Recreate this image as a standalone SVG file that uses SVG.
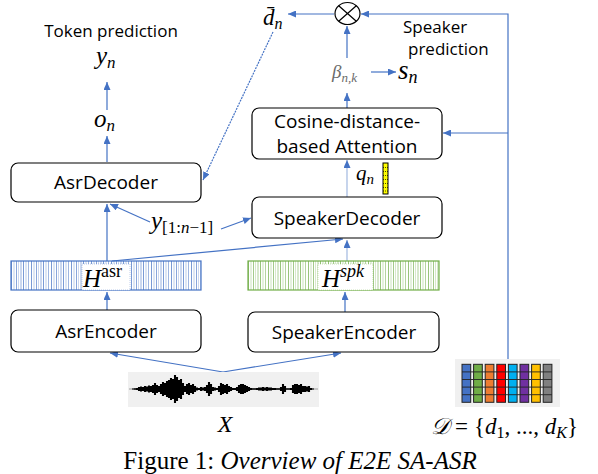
<svg xmlns="http://www.w3.org/2000/svg" width="598" height="474" viewBox="0 0 598 474">
<defs>
<style>
.box{fill:#fff;stroke:#000;stroke-width:1.2}
.lbl{font-family:"Open Sans","Noto Sans",sans-serif;font-size:19px;fill:#000}
.note{font-family:"Open Sans","Noto Sans",sans-serif;font-size:17px;fill:#000}
.math{font-family:"Liberation Serif","DejaVu Serif",serif;font-style:italic;fill:#000}
.rm{font-style:normal}
.con{fill:none;stroke:#4472c4;stroke-width:1.2}
.cap{font-family:"Liberation Serif",serif;font-size:25px;fill:#000}
</style>
<marker id="ah" viewBox="0 0 8 7" refX="8" refY="3.5" markerWidth="8" markerHeight="7" markerUnits="userSpaceOnUse" orient="auto">
<path d="M0,0L8,3.5L0,7z" fill="#4472c4"/>
</marker>
<pattern id="stB" x="11" y="0" width="20" height="40" patternUnits="userSpaceOnUse">
<g stroke="#4472c4" stroke-width="0.8">
<line x1="0.5" y1="0" x2="0.5" y2="40" stroke-opacity="0.9"/>
<line x1="3" y1="0" x2="3" y2="40" stroke-opacity="0.45"/>
<line x1="5.5" y1="0" x2="5.5" y2="40" stroke-opacity="0.8"/>
<line x1="7.5" y1="0" x2="7.5" y2="40" stroke-opacity="0.35"/>
<line x1="10" y1="0" x2="10" y2="40" stroke-opacity="0.7"/>
<line x1="12.5" y1="0" x2="12.5" y2="40" stroke-opacity="0.9"/>
<line x1="15" y1="0" x2="15" y2="40" stroke-opacity="0.45"/>
<line x1="17.5" y1="0" x2="17.5" y2="40" stroke-opacity="0.65"/>
</g>
</pattern>
<pattern id="stG" x="248" y="0" width="20" height="40" patternUnits="userSpaceOnUse">
<g stroke="#70ad47" stroke-width="0.8">
<line x1="0.5" y1="0" x2="0.5" y2="40" stroke-opacity="0.9"/>
<line x1="3" y1="0" x2="3" y2="40" stroke-opacity="0.45"/>
<line x1="5.5" y1="0" x2="5.5" y2="40" stroke-opacity="0.8"/>
<line x1="7.5" y1="0" x2="7.5" y2="40" stroke-opacity="0.35"/>
<line x1="10" y1="0" x2="10" y2="40" stroke-opacity="0.7"/>
<line x1="12.5" y1="0" x2="12.5" y2="40" stroke-opacity="0.9"/>
<line x1="15" y1="0" x2="15" y2="40" stroke-opacity="0.45"/>
<line x1="17.5" y1="0" x2="17.5" y2="40" stroke-opacity="0.65"/>
</g>
</pattern>
</defs>
<rect width="598" height="474" fill="#fff"/>

<g id="connectors">
<path class="con" d="M107,162L107,136" marker-end="url(#ah)"/>
<path class="con" d="M107,110L107,82" marker-end="url(#ah)"/>
<path class="con" d="M107,261L107,204" marker-end="url(#ah)"/>
<path class="con" d="M150,222L110,204" marker-end="url(#ah)" stroke-width="0.9"/>
<path class="con" d="M221,229L251,218" marker-end="url(#ah)" stroke-width="0.9"/>
<path class="con" d="M112,261L343,239" marker-end="url(#ah)" stroke-width="0.9"/>
<path class="con" d="M347,261L347,240" marker-end="url(#ah)" stroke-opacity="0.5"/>
<path class="con" d="M107,310L107,292" marker-end="url(#ah)"/>
<path class="con" d="M345,312L345,292" marker-end="url(#ah)"/>
<path class="con" d="M223,372L110,353" marker-end="url(#ah)" stroke-width="0.9"/>
<path class="con" d="M223,372L341,353" marker-end="url(#ah)" stroke-width="0.9"/>
<path class="con" d="M347,197L347,160" marker-end="url(#ah)" stroke-opacity="0.5"/>
<path class="con" d="M347,108L347,93" marker-end="url(#ah)"/>
<path class="con" d="M347,58L347,26" marker-end="url(#ah)"/>
<path class="con" d="M371,72L396,72" marker-end="url(#ah)"/>
<path class="con" d="M334,14L288,14" marker-end="url(#ah)"/>
<path class="con" d="M508,359L508,14L361,14" marker-end="url(#ah)"/>
<path class="con" d="M508,133L443,133" marker-end="url(#ah)"/>
<path class="con" d="M273,32L203,180" marker-end="url(#ah)" stroke-width="0.8" stroke-dasharray="2 1"/>
</g>

<g id="token-prediction">
<text class="note" x="111" y="37" text-anchor="middle">Token prediction</text>
</g>
<g id="yn"><text class="math" x="96" y="64" font-size="25">y<tspan font-size="17" dy="4">n</tspan></text></g>
<g id="on"><text class="math" x="94" y="127" font-size="25">o<tspan font-size="17" dy="4">n</tspan></text></g>

<g id="asr-decoder">
<rect class="box" x="11" y="163" width="190" height="39" rx="7"/>
<text class="lbl" x="106" y="189" text-anchor="middle">AsrDecoder</text>
</g>

<g id="dbar-n"><text class="math" x="263" y="25" font-size="23">d̄<tspan font-size="16" dy="4">n</tspan></text></g>

<g id="otimes">
<ellipse cx="347.5" cy="13.5" rx="12.5" ry="11" fill="#fff" stroke="#000" stroke-width="1.2"/>
<path d="M338.7,5.7L356.3,21.3M356.3,5.7L338.7,21.3" stroke="#000" stroke-width="1.2"/>
</g>

<g id="speaker-prediction">
<text class="note" x="403" y="33">Speaker</text>
<text class="note" x="408" y="55">prediction</text>
</g>

<g id="beta"><text class="math" x="332" y="78" font-size="19" style="fill:#6a6a6a">β<tspan font-size="13" dy="4">n,k</tspan></text></g>
<g id="sn"><text class="math" x="398" y="79" font-size="27">s<tspan font-size="18" dy="4">n</tspan></text></g>

<g id="cosine-attention">
<rect class="box" x="252" y="108" width="190" height="51" rx="7"/>
<text class="lbl" x="347" y="128" text-anchor="middle">Cosine-distance-</text>
<text class="lbl" x="347" y="153" text-anchor="middle">based Attention</text>
</g>

<g id="qn">
<text class="math" x="356" y="180" font-size="21">q<tspan font-size="15" dy="4">n</tspan></text>
<rect x="383" y="163" width="5" height="31" fill="#ffff00" stroke="#000" stroke-width="1"/>
<path d="M383,167.5H388M383,171.5H388M383,175.5H388M383,179.5H388M383,183.5H388M383,187.5H388M383,191H388" stroke="#000" stroke-width="0.7" stroke-dasharray="1 1"/>
</g>

<g id="speaker-decoder">
<rect class="box" x="252" y="197" width="190" height="41" rx="7"/>
<text class="lbl" x="347" y="225" text-anchor="middle">SpeakerDecoder</text>
</g>

<g id="y-prev"><text class="math" x="151" y="229" font-size="25">y<tspan font-size="17" dy="4" class="rm">[1:</tspan><tspan font-size="17">n</tspan><tspan font-size="17" class="rm">−1]</tspan></text></g>

<g id="h-asr">
<rect x="11" y="261" width="190" height="29" fill="url(#stB)" stroke="#4472c4" stroke-width="1.2"/>
<rect x="82" y="264" width="48" height="26" fill="#fff" stroke="#4472c4" stroke-width="0.6" stroke-dasharray="1 1" stroke-opacity="0.6"/>
<text class="math" x="83" y="287" font-size="25">H<tspan font-size="18" dy="-10" class="rm">asr</tspan></text>
</g>

<g id="h-spk">
<rect x="248" y="261" width="191" height="29" fill="url(#stG)" stroke="#70ad47" stroke-width="1.2"/>
<rect x="318" y="264" width="55" height="26" fill="#fff" stroke="#70ad47" stroke-width="0.6" stroke-dasharray="1 1" stroke-opacity="0.6"/>
<text class="math" x="322" y="287" font-size="25">H<tspan font-size="18" dy="-10">spk</tspan></text>
</g>

<g id="asr-encoder">
<rect class="box" x="11" y="310" width="190" height="42" rx="7"/>
<text class="lbl" x="106" y="338" text-anchor="middle">AsrEncoder</text>
</g>

<g id="speaker-encoder">
<rect class="box" x="248" y="312" width="191" height="40" rx="7"/>
<text class="lbl" x="344" y="339" text-anchor="middle">SpeakerEncoder</text>
</g>

<g id="waveform">
<rect x="128" y="372" width="191" height="35" fill="#f0f0f0"/>
<line x1="129" y1="389" x2="318" y2="389" stroke="#888" stroke-width="0.8"/>
<path stroke="#000" stroke-width="2.1" fill="none" d="M133,388.5V389.5M135,388.2V389.8M137,388V390M139,387V391M141,386.5V391.5M143,387V391M145,386V392M147,386.5V391.5M149,385.5V392.5M151,386V392M153,385V393M155,383V395M157,385V393M159,386V392M161,384V394M163,382V396M165,383V395M167,381V397M169,380V398M171,378V400M173,379V399M175,375V403M177,377V401M179,380V398M181,379V399M183,383V395M185,386V392M187,384V394M189,383V395M191,385V393M193,384V394M195,386V392M197,387.5V390.5M199,388V390M201,387V391M203,387.5V390.5M205,387V391M207,385V393M209,382V396M211,384V394M213,387V391M215,387.5V390.5M217,388V390M219,386V392M221,383V395M223,384V394M225,385V393M227,384V394M229,386V392M231,387V391M233,388V390M235,388V390M237,387V391M239,385V393M241,384V394M243,384V394M245,385V393M247,386V392M249,387V391M251,388V390M253,388.2V389.8M255,388.2V389.8M257,388V390M259,387.5V390.5M261,387.5V390.5M263,387V391M265,387.5V390.5M267,387V391M269,387.5V390.5M271,387.5V390.5M273,388V390M275,388V390M277,388.2V389.8M279,388.2V389.8M281,387V391M283,384V394M285,386V392M287,388.2V389.8M289,388.2V389.8M291,388V390M293,385V393M295,384V394M297,384V394M299,385V393M301,384V394M303,386V392M305,386V392M307,386.5V391.5M309,386V392M311,388V390M313,388.5V389.5"/>
<text class="math" x="225" y="432" font-size="24" text-anchor="middle">X</text>
</g>

<g id="speaker-profiles">
<rect x="455" y="359" width="105" height="48" fill="#f0f0f0"/>
<g stroke="#222" stroke-width="1">
<rect x="462" y="364.3" width="8.7" height="38" fill="#4472c4"/>
<rect x="473.6" y="364.3" width="8.7" height="38" fill="#70ad47"/>
<rect x="485.2" y="364.3" width="8.7" height="38" fill="#ed7d31"/>
<rect x="496.8" y="364.3" width="8.7" height="38" fill="#ff0000"/>
<rect x="508.4" y="364.3" width="8.7" height="38" fill="#00b0f0"/>
<rect x="520" y="364.3" width="8.7" height="38" fill="#7030a0"/>
<rect x="531.6" y="364.3" width="8.7" height="38" fill="#ffc000"/>
<rect x="543.2" y="364.3" width="8.7" height="38" fill="#808080"/>
<path d="M462,371.9H551.9M462,379.5H551.9M462,387.1H551.9M462,394.7H551.9" stroke-width="0.9"/>
</g>
<text class="math" x="431" y="434" font-size="23">𝒟<tspan class="rm" dx="6">=</tspan><tspan class="rm" dx="6">{</tspan>d<tspan font-size="16" dy="4" class="rm">1</tspan><tspan dy="-4" class="rm">, ..., </tspan>d<tspan font-size="16" dy="4">K</tspan><tspan dy="-4" class="rm">}</tspan></text>
</g>

<g id="caption">
<text class="cap" x="300" y="469" text-anchor="middle">Figure 1: <tspan font-style="italic">Overview of E2E SA-ASR</tspan></text>
</g>
</svg>
